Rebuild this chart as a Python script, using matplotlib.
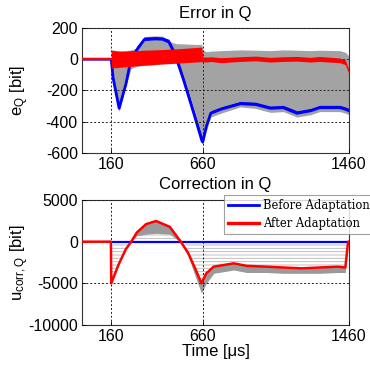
import matplotlib
matplotlib.use("Agg")
import matplotlib.pyplot as plt
from matplotlib.lines import Line2D

plt.rcParams['font.family'] = ['Liberation Sans', 'DejaVu Sans']
plt.rcParams['mathtext.default'] = 'regular'
plt.rcParams['axes.unicode_minus'] = False
plt.rcParams['hatch.linewidth'] = 0.6

# ---------------- data: Error in Q ----------------
t_e = [0, 160, 160, 170, 203, 240, 268, 300, 340, 400, 440, 475, 513, 560, 620,
       655, 660, 680, 704, 760, 866, 950, 1030, 1100, 1176, 1250, 1300, 1410, 1440, 1460]
blue_e = [0, 0, 0, -120, -314, -160, 0, 60, 125, 130, 128, 110, 20, -150, -380,
          -520, -530, -430, -346, -320, -285, -290, -314, -310, -346, -330, -310, -310, -320, -330]
blue_e_hi = [0, 0, 0, -100, -290, -140, 20, 85, 142, 145, 142, 128, 40, -130, -360,
             -490, -500, -410, -330, -305, -270, -275, -300, -295, -330, -315, -295, -295, -305, -315]
red_e_lo = [0, 0, -55, -55, -52, -48, -45, -42, -38, -33, -30, -28, -25, -22, -18,
            -15, -15, -18, -14, -22, -14, -10, -18, -14, -12, -18, -14, -22, -35, -95]
red_e_hi = [0, 0, 55, 55, 52, 52, 55, 55, 58, 60, 62, 64, 66, 70, 75,
            78, 15, 14, 16, 10, 16, 20, 12, 16, 18, 12, 18, 8, -5, -70]
gray_e_hi = [0, 0, 62, 60, 52, 55, 60, 72, 145, 150, 148, 115, 100, 98, 95,
             95, 60, 48, 52, 55, 60, 58, 55, 60, 58, 55, 58, 55, 45, 20]
gray_e_lo = [0, 0, 0, -130, -335, -170, -60, -45, -40, -35, -30, -28, -25, -165, -400,
             -535, -545, -460, -370, -345, -305, -315, -340, -335, -370, -355, -335, -335, -345, -355]

# ---------------- data: Correction in Q ----------------
t_u = [0, 158, 160, 200, 240, 269, 300, 350, 405, 480, 540, 580, 620, 653,
       680, 720, 830, 900, 1010, 1100, 1200, 1300, 1400, 1440, 1455, 1460]
red_u = [0, 0, -5000, -2750, -900, 0, 1100, 2100, 2480, 1780, 0, -1340, -3280, -5000,
         -3800, -3000, -2600, -2900, -3000, -3100, -3200, -3100, -3000, -3100, 0, 0]
gray_u_lo = [0, 0, -5000, -2750, -900, 0, 700, 900, 1000, 900, -100, -1700, -4200, -6200,
             -5000, -3800, -3400, -3700, -3700, -3800, -3800, -3800, -3700, -3700, 0, 0]
blue_u_t = [160, 1460]
blue_u = [0, 0]

xticks = [160, 660, 1460]
yticks_e = [-600, -400, -200, 0, 200]
yticks_u = [-10000, -5000, 0, 5000]
legend_labels = ['Before Adaptation', 'After Adaptation']

GRAY = '#a3a3a3'
BLUE = '#0000ff'
RED = '#ff0000'

fig = plt.figure(figsize=(3.70, 3.65), dpi=100)
ax1 = fig.add_axes([82 / 370, 1 - 153 / 365, 267 / 370, 125 / 365])
ax2 = fig.add_axes([82 / 370, 1 - 325 / 365, 267 / 370, 125 / 365])


def style(ax):
    ax.set_xlim(0, 1460)
    ax.set_xticks(xticks)
    ax.tick_params(direction='in', length=3, width=0.6, labelsize=11.5, pad=3)
    for s in ax.spines.values():
        s.set_linewidth(0.8)
        s.set_color('#333333')
    ax.grid(True, color='#222222', linestyle=(0, (2, 2)), linewidth=0.7)
    ax.set_axisbelow(False)


# top panel
ax1.fill_between(t_e, gray_e_lo, gray_e_hi, color=GRAY, lw=0, zorder=1)
ax1.fill_between(t_e, blue_e, blue_e_hi, color=BLUE, lw=0, zorder=2)
ax1.plot(t_e, blue_e, color=BLUE, lw=2.0, zorder=2)
ax1.plot(t_e[:2], red_e_lo[:2], color=RED, lw=1.6, zorder=3)
ax1.fill_between(t_e, red_e_lo, red_e_hi, color=RED, lw=0, zorder=3)
ax1.set_ylim(-600, 200)
ax1.set_yticks(yticks_e)
style(ax1)
ax1.set_title('Error in Q', fontsize=12, pad=7.5)
ax1.set_ylabel('e$_{Q}$ [bit]', fontsize=12)
ax1.yaxis.set_label_coords(-0.19, 0.5)

# bottom panel
ax2.fill_between(t_u, red_u, 0, facecolor='white', edgecolor='#b5b5b5',
                 hatch='-----', lw=0, zorder=1)
ax2.fill_between(t_u, gray_u_lo, red_u, color='#9a9a9a', lw=0, zorder=2)
ax2.plot(blue_u_t, blue_u, color=BLUE, lw=1.6, zorder=4)
ax2.plot(t_u, red_u, color=RED, lw=1.8, zorder=5)
ax2.set_ylim(-10000, 5000)
ax2.set_yticks(yticks_u)
style(ax2)
ax2.set_title('Correction in Q', fontsize=12, pad=8)
ax2.set_ylabel('u$_{corr,Q}$ [bit]', fontsize=12)
ax2.yaxis.set_label_coords(-0.19, 0.5)
ax2.set_xlabel('Time [\u03bcs]', fontsize=12, labelpad=0)

handles = [Line2D([], [], color=BLUE, lw=2), Line2D([], [], color=RED, lw=2.4)]
leg = fig.legend(handles, legend_labels,
                 loc='upper left', bbox_to_anchor=(224 / 370, 1 - 195 / 365),
                 prop={'family': 'DejaVu Serif', 'size': 8.3}, frameon=True,
                 fancybox=False, handlelength=2.7, handletextpad=0.3,
                 labelspacing=0.45, borderpad=0.35, borderaxespad=0)
leg.get_frame().set_edgecolor('#888888')
leg.get_frame().set_linewidth(0.8)
leg.set_zorder(10)

fig.savefig('out.png', dpi=100)
